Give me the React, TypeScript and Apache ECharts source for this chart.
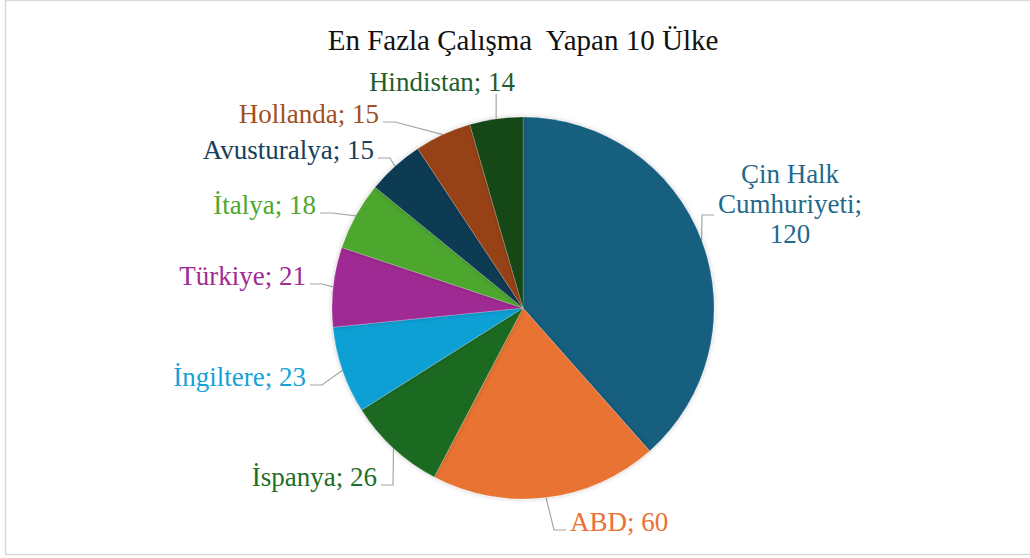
import React, { useEffect, useRef } from "react";
import * as echarts from "echarts";

const TITLE = "En Fazla Çalışma  Yapan 10 Ülke";
const countries = [
  "Çin Halk Cumhuriyeti",
  "ABD",
  "İspanya",
  "İngiltere",
  "Türkiye",
  "İtalya",
  "Avusturalya",
  "Hollanda",
  "Hindistan",
];
const values = [120, 60, 26, 23, 21, 18, 15, 15, 14];
const sliceColors = [
  "#175E7F",
  "#E87332",
  "#1C6B24",
  "#10A0D5",
  "#A02B93",
  "#4EA72E",
  "#0E3A52",
  "#974313",
  "#124618",
];
const labelColors = [
  "#1F6A8C",
  "#E97132",
  "#1E6F28",
  "#15A2D6",
  "#A02B93",
  "#4EA72E",
  "#17405A",
  "#A24E1D",
  "#1F5E2B",
];
// label layout: [x, y(middle), align]
const labelPos: [number, number, string][] = [
  [790, 204, "center"],
  [570, 522, "left"],
  [377, 477, "right"],
  [306, 377, "right"],
  [306, 276, "right"],
  [316, 205, "right"],
  [374, 150, "right"],
  [379, 114, "right"],
  [442, 82, "center"],
];

const FONT = "Liberation Serif";

export default function App() {
  const ref = useRef<HTMLDivElement>(null);
  useEffect(() => {
    if (!ref.current) return;
    const chart = echarts.init(ref.current, undefined, { renderer: "svg" });
    const data = countries.map((n, i) => ({
      name: n,
      value: values[i],
      itemStyle: { color: sliceColors[i] },
      label: { color: labelColors[i] },
    }));
    chart.setOption({
      animation: false,
      backgroundColor: "#fff",
      textStyle: { fontFamily: FONT },
      graphic: [
        {
          type: "rect",
          shape: { x: 5.5, y: 0.5, width: 1060, height: 554 },
          style: { fill: "none", stroke: "#d9d9d9", lineWidth: 1.5 },
          silent: true,
        },
        {
          type: "text",
          x: 523,
          y: 40,
          silent: true,
          style: {
            text: TITLE,
            fontFamily: FONT,
            fontSize: 29,
            fill: "#111",
            align: "center",
            verticalAlign: "middle",
          },
        },
      ],
      series: [
        {
          type: "pie",
          center: [523, 308],
          radius: 191,
          startAngle: 90,
          clockwise: true,
          avoidLabelOverlap: false,
          data,
          itemStyle: {
            borderWidth: 0.5,
            borderColor: "rgba(255,255,255,0.35)",
            shadowBlur: 5,
            shadowColor: "rgba(0,0,0,0.22)",
          },
          label: {
            show: true,
            position: "outside",
            fontFamily: FONT,
            fontSize: 27,
            lineHeight: 30,
            formatter: (p: any) =>
              p.dataIndex === 0
                ? "Çin Halk\nCumhuriyeti;\n" + p.value
                : p.name + "; " + p.value,
          },
          labelLine: {
            show: true,
            lineStyle: { color: "#A6A6A6", width: 1.2 },
          },
          labelLayout: (params: any) => {
            const i = params.dataIndex;
            const [x, y, align] = labelPos[i];
            const w = params.labelRect.width;
            const a = params.labelLinePoints
              ? params.labelLinePoints[0]
              : [x, y];
            let pts: number[][];
            if (i === 8) {
              const by = y + 12;
              pts = [a, [a[0], by], [a[0], by]];
            } else if (align === "right") {
              const ly = y + 8;
              pts = [a, [x + 16, ly], [x + 4, ly]];
            } else {
              const left = align === "center" ? x - w / 2 : x;
              const ly = i === 0 ? y + 11 : y + 8;
              pts = [a, [left - 16, ly], [left - 4, ly]];
            }
            return {
              x,
              y,
              align,
              verticalAlign: "middle",
              labelLinePoints: pts,
            };
          },
        },
      ],
    });
    return () => chart.dispose();
  }, []);
  return (
    <div
      ref={ref}
      style={{ position: "absolute", left: 0, top: 0, width: 1030, height: 558 }}
    />
  );
}
